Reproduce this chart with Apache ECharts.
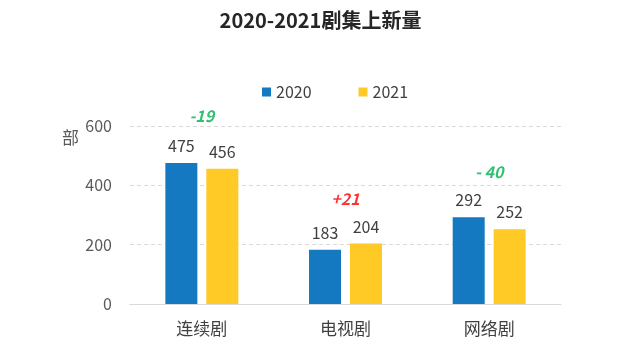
<!DOCTYPE html>
<html><head><meta charset="utf-8">
<script src="https://cdn.jsdelivr.net/npm/echarts@6/dist/echarts.min.js"></script>
<style>html,body{margin:0;padding:0;background:#fff}#c{width:641px;height:357px}</style>
</head><body><div id="c"></div>
<script>
const categories = ['连续剧', '电视剧', '网络剧'];
const values2020 = [475, 183, 292];
const values2021 = [456, 204, 252];
const diffLabels = ['-19', '+21', '- 40'];
const diffPositions = [634, 354, 445];
const diffColors = ['#00B050', '#FF0000', '#00B050'];
const yTicks = [0, 200, 400, 600];

const chart = echarts.init(document.getElementById('c'));
const font = '"Noto Sans CJK SC", "Noto Sans", sans-serif';
chart.setOption({
  animation: false,
  textStyle: { fontFamily: font },
  title: {
    text: '2020-2021剧集上新量', left: 'center', top: 5,
    textStyle: { fontSize: 20, fontWeight: 'bold', color: '#262626', fontFamily: font }
  },
  legend: {
    data: ['2020', '2021'], top: 79, left: 257, itemGap: 47,
    itemWidth: 9, itemHeight: 9, itemStyle: { borderWidth: 0 }, icon: 'rect',
    textStyle: { fontSize: 16, color: '#404040', fontFamily: font }
  },
  grid: { left: 130, right: 80, top: 126, bottom: 53 },
  xAxis: {
    type: 'category', data: categories,
    axisLine: { lineStyle: { color: '#D9D9D9', width: 1 } },
    axisTick: { show: false },
    axisLabel: { fontSize: 17, color: '#404040', margin: 16 }
  },
  yAxis: {
    type: 'value', min: yTicks[0], max: yTicks[yTicks.length - 1], interval: 200,
    name: '部', nameLocation: 'end', nameGap: 0,
    nameTextStyle: { fontSize: 17, color: '#595959', align: 'right', verticalAlign: 'top', padding: [3, 51, 0, 0] },
    axisLine: { show: false }, axisTick: { show: false },
    axisLabel: { fontSize: 16, color: '#595959', margin: 18 },
    splitLine: { lineStyle: { color: '#D9D9D9', type: [4, 3] } }
  },
  series: [
    {
      name: '2020', type: 'bar', data: values2020, barWidth: 32, barGap: '28%',
      itemStyle: { color: '#1479C1' },
      label: { show: true, position: 'top', fontSize: 16, color: '#404040', distance: 9 }
    },
    {
      name: '2021', type: 'bar', data: values2021, barWidth: 32,
      itemStyle: { color: '#FFC926' },
      label: { show: true, position: 'top', fontSize: 16, color: '#404040', distance: 9 }
    },
    {
      type: 'scatter', clip: false, symbolSize: 0, silent: true,
      data: categories.map((c, i) => ({
        value: [c, diffPositions[i]],
        label: {
          show: true, position: 'inside', formatter: diffLabels[i],
          fontSize: 16, fontStyle: 'italic', fontWeight: 'bold', color: diffColors[i]
        }
      }))
    }
  ]
});
</script></body></html>
